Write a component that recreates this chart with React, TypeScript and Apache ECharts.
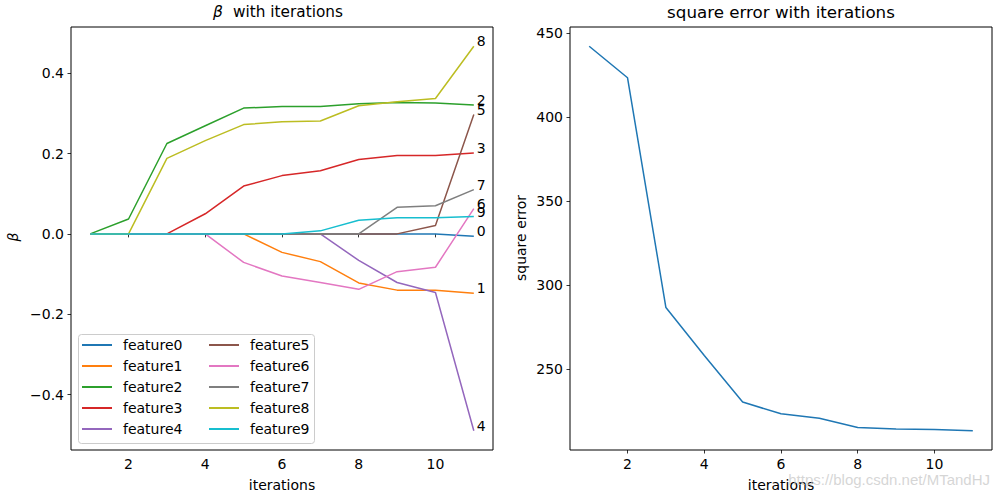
import React, { useEffect, useRef } from "react";
import * as echarts from "echarts";

const iterations = [1, 2, 3, 4, 5, 6, 7, 8, 9, 10, 11];
const featureNames = ["feature0", "feature1", "feature2", "feature3", "feature4", "feature5", "feature6", "feature7", "feature8", "feature9"];
const feature0 = [0, 0, 0, 0, 0, 0, 0, 0, 0, 0, -0.006];
const feature1 = [0, 0, 0, 0, 0, -0.046, -0.069, -0.122, -0.14, -0.14, -0.148];
const feature2 = [0, 0.037, 0.225, 0.269, 0.313, 0.317, 0.317, 0.324, 0.327, 0.326, 0.321];
const feature3 = [0, 0, 0, 0.05, 0.119, 0.145, 0.157, 0.185, 0.195, 0.195, 0.201];
const feature4 = [0, 0, 0, 0, 0, 0, 0, -0.066, -0.121, -0.146, -0.49];
const feature5 = [0, 0, 0, 0, 0, 0, 0, 0, 0, 0.021, 0.297];
const feature6 = [0, 0, 0, 0, -0.071, -0.105, -0.121, -0.138, -0.094, -0.083, 0.063];
const feature7 = [0, 0, 0, 0, 0, 0, 0, 0, 0.066, 0.07, 0.11];
const feature8 = [0, 0, 0.188, 0.232, 0.272, 0.279, 0.281, 0.319, 0.329, 0.337, 0.467];
const feature9 = [0, 0, 0, 0, 0, 0, 0.0075, 0.034, 0.04, 0.04, 0.043];
const squareError = [442.4, 423.6, 286.7, 258.1, 230.4, 223.4, 220.8, 215.2, 214.3, 214.1, 213.3];

const xTicks = [2, 4, 6, 8, 10];
const betaTicks = [-0.4, -0.2, 0, 0.2, 0.4];
const errTicks = [250, 300, 350, 400, 450];

const colors = ["#1f77b4", "#ff7f0e", "#2ca02c", "#d62728", "#9467bd", "#8c564b", "#e377c2", "#7f7f7f", "#bcbd22", "#17becf"];
const FONT = "DejaVu Sans";

export default function App() {
  const ref = useRef<HTMLDivElement>(null);
  useEffect(() => {
    document.body.style.margin = "0";
    const chart = echarts.init(ref.current!, null, { renderer: "svg" });
    const features = [feature0, feature1, feature2, feature3, feature4, feature5, feature6, feature7, feature8, feature9];
    const all = features.flat();
    const bMin = Math.min(...all), bMax = Math.max(...all);
    const bPad = (bMax - bMin) * 0.05;
    const eMin = Math.min(...squareError), eMax = Math.max(...squareError);
    const ePad = (eMax - eMin) * 0.05;
    const fmtMinus = (v: number, d: number) => v.toFixed(d).replace("-", "\u2212");

    const xAxisBase = (gridIndex: number) => ({
      type: "value",
      gridIndex,
      min: 0.5,
      max: 11.5,
      splitLine: { show: false },
      axisLine: { show: false },
      axisTick: { show: true, length: 3.5, inside: false, customValues: xTicks, lineStyle: { color: "#000", width: 0.8 } },
      axisLabel: { customValues: xTicks, color: "#000", fontFamily: FONT, fontSize: 14, margin: 7 },
    });

    const series: any[] = features.map((d, i) => ({
      type: "line",
      name: featureNames[i],
      xAxisIndex: 0,
      yAxisIndex: 0,
      data: iterations.map((x, j) => [x, d[j]]),
      showSymbol: false,
      symbol: "none",
      lineStyle: { color: colors[i], width: 1.5 },
      itemStyle: { color: colors[i] },
      endLabel: {
        show: true,
        formatter: String(i),
        color: "#000",
        fontFamily: FONT,
        fontSize: 14,
        distance: 3,
        offset: [0, -5],
      },
    }));
    series.push({
      type: "line",
      name: "square error",
      xAxisIndex: 1,
      yAxisIndex: 1,
      data: iterations.map((x, j) => [x, squareError[j]]),
      showSymbol: false,
      symbol: "none",
      lineStyle: { color: colors[0], width: 1.5 },
    });

    const legendBase = {
      orient: "vertical",
      top: 338,
      padding: 0,
      itemWidth: 30,
      itemHeight: 2,
      itemGap: 7,
      icon: "rect",
      z: 5,
      textStyle: { color: "#000", fontFamily: FONT, fontSize: 14, lineHeight: 14, padding: [0, 0, 0, 6] },
    };

    chart.setOption({
      animation: false,
      grid: [
        { left: 71, top: 27, width: 422, height: 423, show: true, borderColor: "#000", borderWidth: 1, backgroundColor: "transparent" },
        { left: 570, top: 27, width: 422, height: 423, show: true, borderColor: "#000", borderWidth: 1, backgroundColor: "transparent" },
      ],
      xAxis: [xAxisBase(0), xAxisBase(1)],
      yAxis: [
        {
          type: "value",
          gridIndex: 0,
          min: bMin - bPad,
          max: bMax + bPad,
          splitLine: { show: false },
          axisLine: { show: false },
          axisTick: { show: true, length: 3.5, customValues: betaTicks, lineStyle: { color: "#000", width: 0.8 } },
          axisLabel: { customValues: betaTicks, color: "#000", fontFamily: FONT, fontSize: 14, margin: 7, formatter: (v: number) => fmtMinus(v, 1) },
        },
        {
          type: "value",
          gridIndex: 1,
          min: eMin - ePad,
          max: eMax + ePad,
          splitLine: { show: false },
          axisLine: { show: false },
          axisTick: { show: true, length: 3.5, customValues: errTicks, lineStyle: { color: "#000", width: 0.8 } },
          axisLabel: { customValues: errTicks, color: "#000", fontFamily: FONT, fontSize: 14, margin: 7, formatter: (v: number) => String(Math.round(v)) },
        },
      ],
      legend: [
        { ...legendBase, left: 82, data: featureNames.slice(0, 5) },
        { ...legendBase, left: 209, data: featureNames.slice(5, 10) },
      ],
      graphic: [
        { type: "rect", z: 3, shape: { x: 78.5, y: 334.5, width: 236, height: 109, r: 3 }, style: { fill: "rgba(255,255,255,0.8)", stroke: "#cccccc", lineWidth: 1 } },
        { type: "text", z: 6, style: { text: "β", x: 213, y: 12, textAlign: "left", textVerticalAlign: "middle", font: `italic 15.5px "${FONT}"`, fill: "#000" } },
        { type: "text", z: 6, style: { text: "with iterations", x: 233, y: 12, textAlign: "left", textVerticalAlign: "middle", font: `15.3px "${FONT}"`, fill: "#000" } },
        { type: "text", z: 6, style: { text: "square error with iterations", x: 781, y: 12, textAlign: "center", textVerticalAlign: "middle", font: `16.7px "${FONT}"`, fill: "#000" } },
        { type: "text", z: 6, style: { text: "iterations", x: 282, y: 485, textAlign: "center", textVerticalAlign: "middle", font: `14px "${FONT}"`, fill: "#000" } },
        { type: "text", z: 6, style: { text: "iterations", x: 781, y: 485, textAlign: "center", textVerticalAlign: "middle", font: `14px "${FONT}"`, fill: "#000" } },
        { type: "text", z: 6, x: 12.5, y: 237, rotation: Math.PI / 2, style: { text: "β", x: 0, y: 0, textAlign: "center", textVerticalAlign: "middle", font: `italic 14px "${FONT}"`, fill: "#000" } },
        { type: "text", z: 6, x: 521, y: 238, rotation: Math.PI / 2, style: { text: "square error", x: 0, y: 0, textAlign: "center", textVerticalAlign: "middle", font: `14px "${FONT}"`, fill: "#000" } },
        { type: "text", z: 7, style: { text: "https://blog.csdn.net/MTandHJ", x: 990, y: 479, textAlign: "right", textVerticalAlign: "middle", font: `15px "Liberation Sans"`, fill: "rgba(200,200,200,0.75)" } },
      ],
      series,
    });
    return () => chart.dispose();
  }, []);
  return <div ref={ref} style={{ width: 1000, height: 497 }} />;
}
